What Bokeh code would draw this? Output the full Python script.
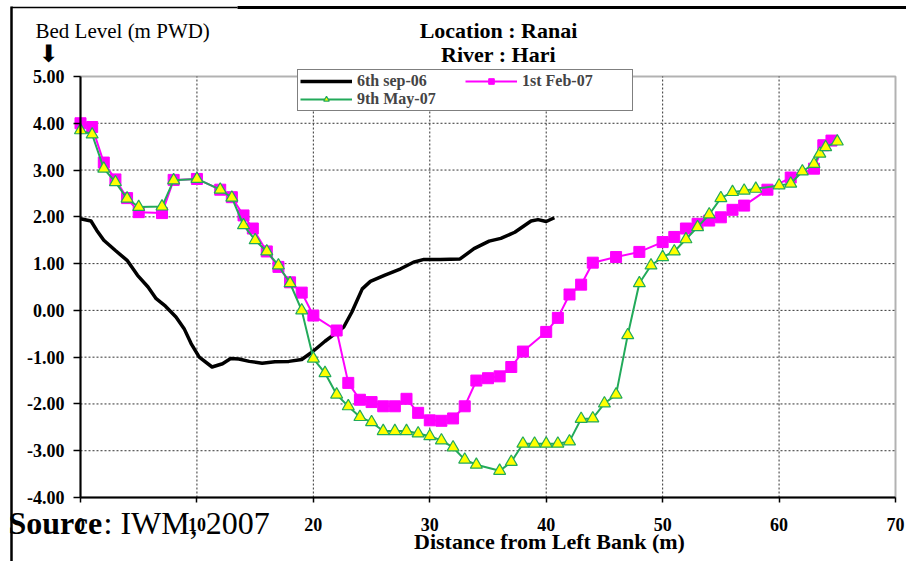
from bokeh.plotting import figure
from bokeh.models import (Range1d, FixedTicker, NumeralTickFormatter, Label, Legend,
                          LegendItem, Arrow, LinearAxis, BoxAnnotation)
from bokeh.embed import file_html
from bokeh.resources import INLINE

# ---------------- data ----------------
sep06_x = [0, 0.9, 1.4, 2.0, 3.0, 4.0, 4.9, 5.8, 6.5, 7.3, 8.2, 8.9, 9.5, 10.2, 11.3,
           12.2, 12.9, 13.6, 14.5, 15.6, 16.7, 17.9, 19.0, 19.9, 21.0, 21.7, 22.6, 23.3,
           24.2, 24.9, 26.1, 27.5, 28.6, 29.5, 30.9, 32.6, 33.8, 35.1, 36.1, 37.3, 38.7,
           39.3, 40.0, 40.7]
sep06_y = [1.96, 1.91, 1.71, 1.50, 1.28, 1.07, 0.75, 0.50, 0.25, 0.09, -0.14, -0.39, -0.71,
           -1.00, -1.21, -1.14, -1.03, -1.04, -1.09, -1.13, -1.10, -1.09, -1.05, -0.89,
           -0.66, -0.53, -0.36, -0.04, 0.46, 0.62, 0.75, 0.89, 1.03, 1.09, 1.09, 1.10,
           1.32, 1.48, 1.54, 1.67, 1.91, 1.94, 1.90, 1.98]

feb07_x = [0, 1, 2, 3, 4, 5, 7, 8, 10, 12, 13, 14, 14.8, 16, 17, 18, 19, 20, 22, 23, 24,
           25, 26, 27, 28, 29, 30, 31, 32, 33, 34, 35, 36, 37, 38, 40, 41, 42, 43, 44, 46,
           48, 50, 51, 52, 53, 54, 55, 56, 57, 59, 61, 63, 63.8, 64.5]
feb07_y = [4.00, 3.92, 3.16, 2.80, 2.40, 2.10, 2.08, 2.79, 2.81, 2.58, 2.42, 2.03, 1.75,
           1.26, 0.93, 0.60, 0.38, -0.11, -0.43, -1.55, -1.91, -1.96, -2.05, -2.05, -1.89,
           -2.19, -2.35, -2.36, -2.31, -2.05, -1.50, -1.45, -1.41, -1.21, -0.88, -0.46,
           -0.16, 0.34, 0.55, 1.02, 1.14, 1.25, 1.46, 1.57, 1.75, 1.85, 1.92, 1.99, 2.15,
           2.24, 2.58, 2.84, 3.03, 3.53, 3.63]

may07_x = [0, 1, 2, 3, 4, 5, 7, 8, 10, 12, 13, 14, 15, 16, 17, 18, 19, 20, 21, 22, 23, 24,
           25, 26, 27, 28, 29, 30, 31, 32, 33, 34, 36, 37, 38, 39, 40, 41, 42, 43, 44, 45,
           46, 47, 48, 49, 50, 51, 52, 53, 54, 55, 56, 57, 58, 60, 61, 62, 63, 63.5, 64, 65]
may07_y = [3.85, 3.76, 3.03, 2.74, 2.39, 2.21, 2.22, 2.78, 2.81, 2.58, 2.41, 1.82, 1.50,
           1.26, 0.96, 0.58, 0.00, -1.03, -1.34, -1.80, -2.05, -2.28, -2.39, -2.58, -2.58,
           -2.58, -2.63, -2.69, -2.78, -2.93, -3.19, -3.30, -3.43, -3.24, -2.85, -2.85,
           -2.85, -2.85, -2.80, -2.32, -2.31, -1.99, -1.80, -0.53, 0.58, 0.96, 1.14, 1.26,
           1.52, 1.78, 2.05, 2.40, 2.53, 2.56, 2.60, 2.67, 2.71, 2.97, 3.13, 3.35, 3.49, 3.61]

x_ticks = [0, 10, 20, 30, 40, 50, 60, 70]
y_ticks = [-4, -3, -2, -1, 0, 1, 2, 3, 4, 5]
X_MIN, X_MAX = 0, 70
Y_MIN, Y_MAX = -4, 5

SERIF = "Liberation Serif"
GREEN = "#22AA5A"
MAGENTA = "#FF00FF"

# canvas geometry: plot box from px 80..895 (x) and 76..497 (y) of a 906x561 canvas
W, H = 906, 561
PL, PR, PT, PB = 80, 895, 76, 497
sx = (PR - PL) / (X_MAX - X_MIN)
sy = (PB - PT) / (Y_MAX - Y_MIN)
def dx(px):
    return X_MIN + (px - PL) / sx
def dy(py):
    return Y_MIN + (PB - py) / sy

p = figure(width=W, height=H, output_backend="svg", toolbar_location=None,
           x_range=Range1d(dx(0), dx(W)), y_range=Range1d(dy(H), dy(0)),
           x_axis_location=None, y_axis_location=None,
           min_border_left=0, min_border_right=0, min_border_top=0, min_border_bottom=0)
p.background_fill_color = "white"
p.border_fill_color = "white"
p.outline_line_color = None
p.xgrid.visible = False
p.ygrid.visible = False

# ---------------- grid (dotted) ----------------
gx = [t for t in x_ticks if X_MIN < t < X_MAX]
gy = [t for t in y_ticks if Y_MIN < t < Y_MAX]
p.segment(x0=gx, y0=[Y_MIN] * len(gx), x1=gx, y1=[Y_MAX] * len(gx),
          line_color="#333333", line_dash="2 2", line_width=1)
p.segment(x0=[X_MIN] * len(gy), y0=gy, x1=[X_MAX] * len(gy), y1=gy,
          line_color="#333333", line_dash="2 2", line_width=1)

# ---------------- axes ----------------
xaxis = LinearAxis(fixed_location=Y_MIN, bounds=(X_MIN, X_MAX),
                   ticker=FixedTicker(ticks=x_ticks))
yaxis = LinearAxis(fixed_location=X_MIN, bounds=(Y_MIN, Y_MAX),
                   ticker=FixedTicker(ticks=y_ticks),
                   formatter=NumeralTickFormatter(format="0.00"))
for ax in (xaxis, yaxis):
    ax.axis_line_color = "black"
    ax.axis_line_width = 2
    ax.major_tick_line_color = "black"
    ax.major_tick_line_width = 1.5
    ax.major_tick_in = 0
    ax.minor_tick_line_color = None
    ax.major_label_text_font = SERIF
    ax.major_label_text_font_style = "bold"
    ax.major_label_text_font_size = "18px"
    ax.major_label_text_color = "black"
xaxis.major_tick_out = 5
xaxis.major_label_standoff = 15
yaxis.major_tick_out = 7
yaxis.major_label_standoff = 9
p.add_layout(xaxis, "below")
p.add_layout(yaxis, "left")

# plot-area outline
p.add_layout(BoxAnnotation(left=X_MIN, right=X_MAX, bottom=Y_MIN, top=Y_MAX,
                           fill_alpha=0, line_color="black", line_width=2))

# ---------------- series ----------------
r_sep = p.line(sep06_x, sep06_y, line_color="black", line_width=3.5, line_join="round")
r_feb_l = p.line(feb07_x, feb07_y, line_color=MAGENTA, line_width=2)
r_feb_m = p.scatter(feb07_x, feb07_y, marker="square", size=11, fill_color=MAGENTA,
                    line_color=MAGENTA)
r_may_l = p.line(may07_x, may07_y, line_color=GREEN, line_width=2)
r_may_m = p.scatter(may07_x, may07_y, marker="triangle", size=12, fill_color="#FFFF00",
                    line_color=GREEN, line_width=1.2)

legend = Legend(items=[
    LegendItem(label="6th sep-06", renderers=[r_sep]),
    LegendItem(label="9th May-07", renderers=[r_may_l, r_may_m]),
    LegendItem(label="1st Feb-07", renderers=[r_feb_l, r_feb_m]),
], location=(297, H - 111), ncols=2, orientation="vertical")
legend.label_text_font = SERIF
legend.label_text_font_style = "bold"
legend.label_text_font_size = "16px"
legend.label_standoff = 5
legend.glyph_width = 52
legend.glyph_height = 14
legend.label_height = 14
legend.label_width = 108
legend.spacing = 0
legend.padding = 2
legend.margin = 0
legend.border_line_color = "black"
legend.border_line_width = 1.5
legend.background_fill_color = "white"
legend.background_fill_alpha = 1
p.add_layout(legend)

# ---------------- texts ----------------
def lab(px, py, text, size, bold=False, align="left", font=SERIF):
    p.add_layout(Label(x=dx(px), y=dy(py), text=text, text_font=font,
                       text_font_style="bold" if bold else "normal",
                       text_font_size=size, text_align=align,
                       text_baseline="middle", text_color="black"))

lab(498, 30, "Location : Ranai", "22px", bold=True, align="center")
lab(498, 54, "River : Hari", "22px", bold=True, align="center")
lab(35, 30, "Bed Level (m PWD)", "21px")
lab(48, 53, "\u2B07", "24px", align="center", font="DejaVu Sans")
lab(549, 541, "Distance from Left Bank (m)", "22px", bold=True, align="center")
lab(8, 522, "Source", "32px", bold=True)
lab(103, 522, ": IWM, 2007", "32px")

# ---------------- outer frame lines ----------------
p.add_layout(Arrow(end=None, x_start=dx(11), y_start=dy(6), x_end=dx(11), y_end=dy(H),
                   line_color="black", line_width=2.5))
p.add_layout(Arrow(end=None, x_start=dx(11), y_start=dy(7), x_end=dx(237), y_end=dy(7),
                   line_color="black", line_width=1.5))
p.add_layout(Arrow(end=None, x_start=dx(237), y_start=dy(7), x_end=dx(W), y_end=dy(7),
                   line_color="black", line_width=3))

open("out.html", "w").write(file_html(p, INLINE))
